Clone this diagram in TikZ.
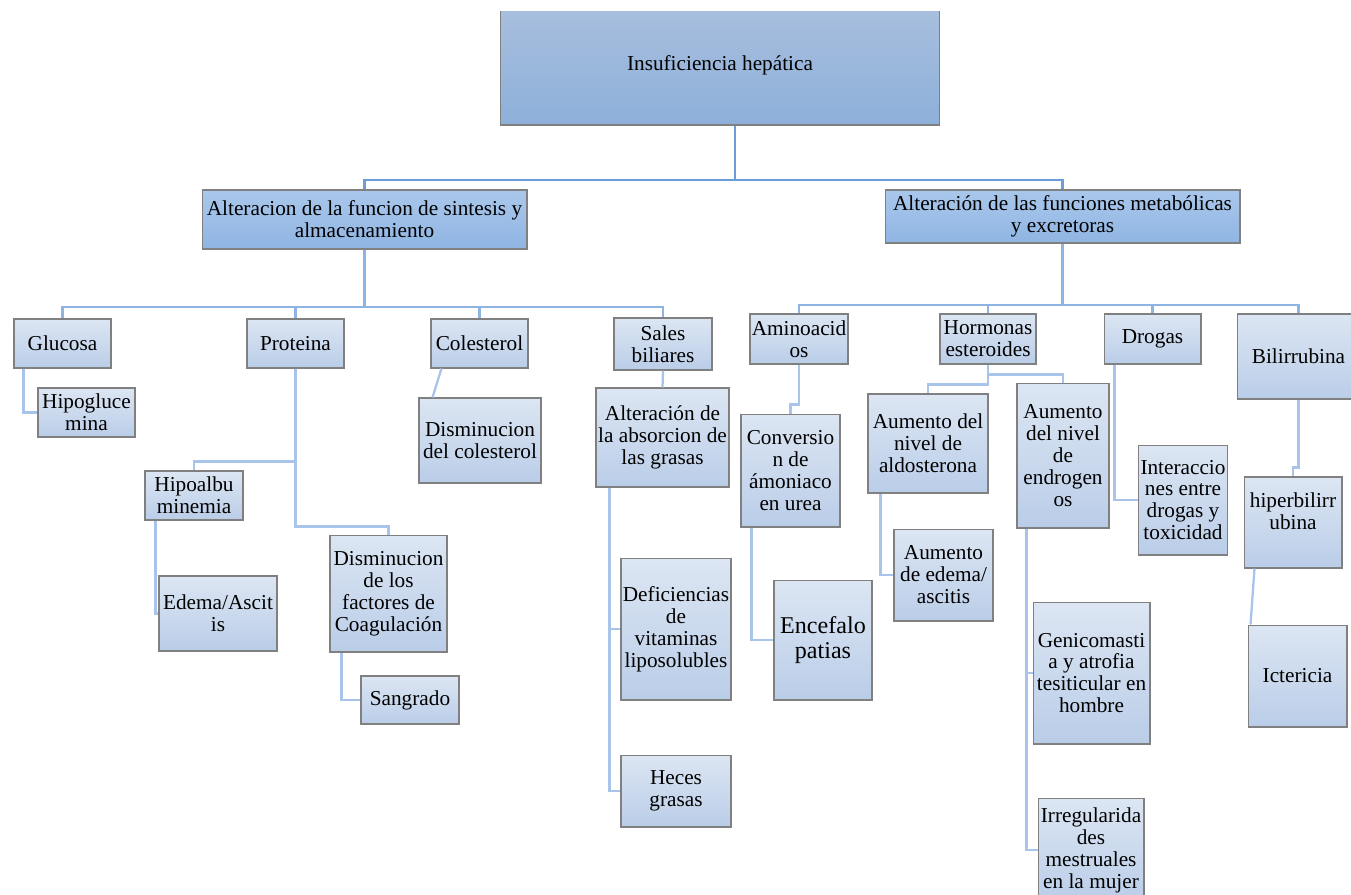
\documentclass[tikz,border=0pt]{standalone}
\usepackage{fontspec}
\setmainfont{Liberation Serif}
\usetikzlibrary{calc}
\definecolor{boxline}{RGB}{128,128,128}
\definecolor{mainA}{RGB}{169,191,222}
\definecolor{mainB}{RGB}{141,176,218}
\definecolor{subA}{RGB}{170,199,235}
\definecolor{subB}{RGB}{143,181,227}
\definecolor{leafA}{RGB}{220,230,243}
\definecolor{leafB}{RGB}{186,205,232}
\definecolor{trunkblue}{RGB}{106,157,218}
\definecolor{branchblue}{RGB}{141,180,226}
\definecolor{linkblue}{RGB}{169,196,235}
\tikzset{
  block/.style={
    rectangle,
    draw=boxline,
    line width=0.6pt,
    top color=leafA,
    bottom color=leafB,
    align=center,
    inner sep=1pt,
    font=\fontsize{12.1}{12.5}\selectfont
  }
}
\tikzset{
  blockmain/.style={block, top color=mainA, bottom color=mainB}
}
\tikzset{
  blocksub/.style={block, top color=subA, bottom color=subB}
}
\tikzset{
  sz/.style 2 args={minimum width=#1cm, minimum height=#2cm}
}
\tikzstyle{trunk} = [draw=trunkblue, line width=1.3pt]
\tikzstyle{branch} = [draw=branchblue, line width=1.3pt]
\tikzstyle{link} = [draw=linkblue, line width=1.3pt]

\begin{document}
\begin{tikzpicture}[x=0.02cm, y=-0.02cm]
    \useasboundingbox (0,0) rectangle (1351,894);
    \clip (0,11) rectangle (1351,894);
    \node[blockmain, sz={8.8}{2.4}] (liver) at (720, 65) {Insuficiencia hepática};
    \node[blocksub, sz={6.5}{1.18}] (sint) at (364.5, 219.5) {Alteracion de la funcion de sintesis y\\almacenamiento};
    \node[blocksub, sz={7.1}{1.06}] (meta) at (1062.5, 216.5) {Alteración de las funciones metabólicas\\y excretoras};
    \node[block, sz={1.94}{0.98}] (gluc) at (62.5, 343.5) {Glucosa};
    \node[block, sz={1.94}{0.98}] (prot) at (295.5, 343.5) {Proteina};
    \node[block, sz={1.94}{0.98}] (cole) at (479.5, 343.5) {Colesterol};
    \node[block, sz={1.96}{1.04}] (sales) at (663, 344) {Sales\\biliares};
    \node[block, sz={1.96}{1.0}] (amino) at (799, 339) {Aminoacid\\os};
    \node[block, sz={1.92}{1.0}] (horm) at (988, 339) {Hormonas\\esteroides};
    \node[block, sz={1.94}{1.0}] (drog) at (1152.5, 339) {Drogas};
    \node[block, sz={2.46}{1.7}] (bili) at (1298.5, 356.5) {Bilirrubina};
    \node[block, sz={1.94}{0.98}] (hipog) at (86.5, 412.5) {Hipogluce\\mina};
    \node[block, sz={1.96}{0.98}] (hipoa) at (194, 495.5) {Hipoalbu\\minemia};
    \node[block, sz={2.36}{1.5}] (edema) at (218, 613.5) {Edema/Ascit\\is};
    \node[block, sz={2.34}{2.34}] (dfact) at (388.5, 593.5) {Disminucion\\de los\\factores de\\Coagulación};
    \node[block, sz={1.96}{0.96}] (sang) at (410, 700) {Sangrado};
    \node[block, sz={2.44}{1.7}] (dcol) at (480, 440.5) {Disminucion\\del colesterol};
    \node[block, sz={2.66}{1.98}] (absor) at (662.5, 437.5) {Alteración de\\la absorcion de\\las grasas};
    \node[block, sz={2.2}{2.84}] (defi) at (676, 629) {Deficiencias\\de\\vitaminas\\liposolubles};
    \node[block, sz={2.2}{1.44}] (heces) at (676, 791) {Heces\\grasas};
    \node[block, sz={1.98}{2.26}] (conv) at (790.5, 470.5) {Conversio\\n de\\ámoniaco\\en urea};
    \node[block, sz={1.96}{2.4}, font=\fontsize{13.7}{14.2}\selectfont] (ence) at (823, 640) {Encefalo\\patias};
    \node[block, sz={2.4}{1.98}] (aldo) at (928, 443.5) {Aumento del\\nivel de\\aldosterona};
    \node[block, sz={1.98}{1.84}] (aede) at (943.5, 575) {Aumento\\de edema/\\ascitis};
    \node[block, sz={1.84}{2.9}] (endr) at (1063, 455.5) {Aumento\\del nivel\\de\\endrogen\\os};
    \node[block, sz={2.34}{2.84}] (geni) at (1091.5, 673) {Genicomasti\\a y atrofia\\tesiticular en\\hombre};
    \node[block, sz={2.12}{2.08}] (irre) at (1091, 850) {Irregularida\\des\\mestruales\\en la mujer};
    \node[block, sz={1.76}{2.2}] (inter) at (1183, 500) {Interaccio\\nes entre\\drogas y\\toxicidad};
    \node[block, sz={1.96}{1.82}] (hbil) at (1293, 522.5) {hiperbilirr\\ubina\\~};
    \node[block, sz={1.98}{2.04}] (icte) at (1297.5, 676) {Ictericia};
    \coordinate (j0) at (735, 180);
    \coordinate (jl) at (364.5, 307);
    \coordinate (jr) at (1062.5, 305);
    \draw[trunk] (j0 |- liver.south) -- (j0);
    \draw[trunk] (j0) -| (sint.north);
    \draw[trunk] (j0) -| (meta.north);
    \draw[branch] (sint.south) -- (jl);
    \draw[branch] (jl) -| (gluc.north);
    \draw[branch] (jl) -| (prot.north);
    \draw[branch] (jl) -| (cole.north);
    \draw[branch] (jl) -| (sales.north);
    \draw[branch] (meta.south) -- (jr);
    \draw[branch] (jr) -| (amino.north);
    \draw[branch] (jr) -| (horm.north);
    \draw[branch] (jr) -| (drog.north);
    \draw[branch] (jr) -| (bili.north);
    \draw[link] ($(gluc.south west)+(10,0)$) |- (hipog.west);
    \draw[link] (prot.south) -- ++(0,93) -| (hipoa.north);
    \draw[link] (prot.south) -- ++(0,158) -| (dfact.north);
    \draw[link] ($(hipoa.south west)+(11,0)$) |- (edema.west);
    \draw[link] ($(dfact.south west)+(12,0)$) |- (sang.west);
    \draw[link] ($(cole.south west)+(11,0)$) -- ($(dcol.north west)+(14,0)$);
    \draw[link] (sales.south) -- (absor.north);
    \draw[link] ($(absor.south west)+(14,0)$) |- (defi.west);
    \draw[link] ($(absor.south west)+(14,0)$) |- (heces.west);
    \draw[link] (amino.south) -- ++(0,40) -| (conv.north);
    \draw[link] ($(conv.south west)+(11,0)$) |- (ence.west);
    \draw[link] (horm.south) -- ++(0,10) -| (endr.north);
    \draw[link] (horm.south) -- ++(0,20) -| (aldo.north);
    \draw[link] ($(aldo.south west)+(13,0)$) |- (aede.west);
    \draw[link] ($(endr.south west)+(10,0)$) |- (geni.west);
    \draw[link] ($(endr.south west)+(10,0)$) |- (irre.west);
    \draw[link] ($(drog.south west)+(11,0)$) |- (inter.west);
    \draw[link] (bili.south) -- ++(0,68) -| (hbil.north);
    \draw[link] ($(hbil.south west)+(11,0)$) -- ($(icte.north west)+(3,0)$);
\end{tikzpicture}
\end{document}
